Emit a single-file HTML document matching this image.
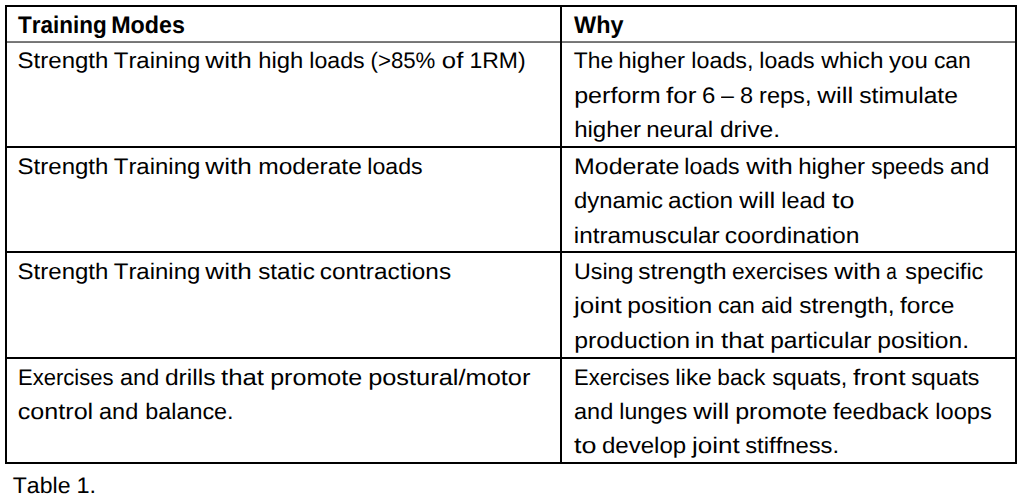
<!DOCTYPE html>
<html lang="en">
<head>
<meta charset="utf-8">
<title>Table 1. Training Modes</title>
<style>
html,body{margin:0;padding:0;background:#fff}
body{position:relative;width:1024px;height:498px;overflow:hidden;color:#000;font-family:"Liberation Sans",sans-serif;font-size:22.5px;font-kerning:none;font-variant-ligatures:none;text-rendering:geometricPrecision}
table{position:absolute;left:5px;top:5px;width:1012px;border-collapse:separate;border-spacing:0;table-layout:fixed}
col.c1{width:555px}col.c2{width:457px}
td,th{position:relative;padding:0;border:0 solid #000;border-left-width:2px;border-top-width:2px;vertical-align:top;text-align:left;font-weight:normal}
td:last-child,th:last-child{border-right-width:2px}
tr.r1 td{border-top-width:0}
tr:last-child td{border-bottom-width:2px}
th{background:linear-gradient(#7c7c7c,#7c7c7c 50%,#747474 50%,#747474) left bottom/100% 2px no-repeat}
.l{position:absolute;margin:0;white-space:nowrap;height:30px;line-height:30px}
.w{display:inline-block;transform-origin:0 0}
.b{font-weight:bold;font-size:24.0px}
</style>
</head>
<body>
<table>
<colgroup><col class="c1"><col class="c2"></colgroup>
<tr class="r0">
<th style="height:36px">
<div class="l b" style="left:11.10px;top:3.75px;word-spacing:-0.824px"><span class="w" style="width:87.45px;transform:translateX(-0.03px) scaleX(0.9370)">Training</span> <span class="w" style="width:73.69px;transform:translateX(0.20px) scaleX(0.9708)">Modes</span></div>
</th>
<th style="height:36px">
<div class="l b" style="left:11.50px;top:3.75px;word-spacing:-0.824px"><span class="w" style="width:49.54px;transform:translateX(0.09px) scaleX(0.9761)">Why</span></div>
</th>
</tr>
<tr class="r1">
<td style="height:103px">
<div class="l" style="left:11.10px;top:3.00px;word-spacing:-0.407px"><span class="w" style="width:90.40px;transform:translateX(-0.40px) scaleX(1.0673)">Strength</span> <span class="w" style="width:85.19px;transform:translateX(-0.23px) scaleX(1.0642)">Training</span> <span class="w" style="width:46.65px;transform:translateX(0.30px) scaleX(1.1613)">with</span> <span class="w" style="width:45.26px;transform:translateX(0.15px) scaleX(1.0598)">high</span> <span class="w" style="width:55.64px;transform:translateX(0.30px) scaleX(1.0282)">loads</span> <span class="w" style="width:65.39px;transform:translateX(0.52px) scaleX(0.9874)">(&gt;85%</span> <span class="w" style="width:21.52px;transform:translateX(-0.13px) scaleX(1.1425)">of</span> <span class="w" style="width:57.08px;transform:translateX(0.49px) scaleX(1.0205)">1RM)</span></div>
</td>
<td style="height:103px">
<div class="l" style="left:11.50px;top:3.00px;word-spacing:-0.407px"><span class="w" style="width:39.04px;transform:translateX(-0.21px) scaleX(1.0144)">The</span> <span class="w" style="width:67.14px;transform:translateX(0.14px) scaleX(1.0695)">higher</span> <span class="w" style="width:62.09px;transform:translateX(0.28px) scaleX(1.0359)">loads,</span> <span class="w" style="width:55.64px;transform:translateX(0.30px) scaleX(1.0282)">loads</span> <span class="w" style="width:62.50px;transform:translateX(0.30px) scaleX(1.0814)">which</span> <span class="w" style="width:38.91px;transform:translateX(0.08px) scaleX(1.0657)">you</span> <span class="w" style="width:36.89px;transform:translateX(-0.10px) scaleX(1.0173)">can</span></div>
<div class="l" style="left:11.50px;top:37.60px;word-spacing:-0.407px"><span class="w" style="width:86.64px;transform:translateX(0.16px) scaleX(1.1156)">perform</span> <span class="w" style="width:30.53px;transform:translateX(-0.07px) scaleX(1.1627)">for</span> <span class="w" style="width:13.10px;transform:translateX(-0.05px) scaleX(1.0638)">6</span> <span class="w" style="width:12.87px;transform:translateX(0.00px) scaleX(1.0298)">–</span> <span class="w" style="width:13.10px;transform:translateX(0.01px) scaleX(1.0449)">8</span> <span class="w" style="width:52.02px;transform:translateX(0.09px) scaleX(1.0463)">reps,</span> <span class="w" style="width:36.28px;transform:translateX(0.30px) scaleX(1.1472)">will</span> <span class="w" style="width:98.77px;transform:translateX(0.20px) scaleX(1.0966)">stimulate</span></div>
<div class="l" style="left:11.50px;top:72.20px;word-spacing:-0.407px"><span class="w" style="width:67.14px;transform:translateX(0.14px) scaleX(1.0695)">higher</span> <span class="w" style="width:67.35px;transform:translateX(0.17px) scaleX(1.0702)">neural</span> <span class="w" style="width:59.59px;transform:translateX(-0.10px) scaleX(1.0945)">drive.</span></div>
</td>
</tr>
<tr class="r2">
<td style="height:103px">
<div class="l" style="left:11.10px;top:4.00px;word-spacing:-0.407px"><span class="w" style="width:90.40px;transform:translateX(-0.40px) scaleX(1.0673)">Strength</span> <span class="w" style="width:85.19px;transform:translateX(-0.23px) scaleX(1.0642)">Training</span> <span class="w" style="width:46.65px;transform:translateX(0.30px) scaleX(1.1613)">with</span> <span class="w" style="width:103.64px;transform:translateX(0.23px) scaleX(1.0896)">moderate</span> <span class="w" style="width:55.64px;transform:translateX(0.30px) scaleX(1.0282)">loads</span></div>
</td>
<td style="height:103px">
<div class="l" style="left:11.50px;top:4.00px;word-spacing:-0.407px"><span class="w" style="width:105.09px;transform:translateX(0.07px) scaleX(1.1067)">Moderate</span> <span class="w" style="width:55.64px;transform:translateX(0.30px) scaleX(1.0282)">loads</span> <span class="w" style="width:46.65px;transform:translateX(0.30px) scaleX(1.1613)">with</span> <span class="w" style="width:67.14px;transform:translateX(0.14px) scaleX(1.0695)">higher</span> <span class="w" style="width:73.11px;transform:translateX(0.26px) scaleX(1.0033)">speeds</span> <span class="w" style="width:39.54px;transform:translateX(0.06px) scaleX(1.0436)">and</span></div>
<div class="l" style="left:11.50px;top:38.30px;word-spacing:-0.407px"><span class="w" style="width:88.76px;transform:translateX(-0.07px) scaleX(1.0617)">dynamic</span> <span class="w" style="width:65.12px;transform:translateX(0.02px) scaleX(1.0843)">action</span> <span class="w" style="width:36.28px;transform:translateX(0.30px) scaleX(1.1472)">will</span> <span class="w" style="width:44.76px;transform:translateX(0.28px) scaleX(1.0382)">lead</span> <span class="w" style="width:22.29px;transform:translateX(0.02px) scaleX(1.1965)">to</span></div>
<div class="l" style="left:11.50px;top:73.00px;word-spacing:-0.407px"><span class="w" style="width:145.75px;transform:translateX(-0.24px) scaleX(1.0803)">intramuscular</span> <span class="w" style="width:134.49px;transform:translateX(-0.18px) scaleX(1.0988)">coordination</span></div>
</td>
</tr>
<tr class="r3">
<td style="height:104px">
<div class="l" style="left:11.10px;top:4.00px;word-spacing:-0.407px"><span class="w" style="width:90.40px;transform:translateX(-0.40px) scaleX(1.0673)">Strength</span> <span class="w" style="width:85.19px;transform:translateX(-0.23px) scaleX(1.0642)">Training</span> <span class="w" style="width:46.65px;transform:translateX(0.30px) scaleX(1.1613)">with</span> <span class="w" style="width:56.67px;transform:translateX(0.21px) scaleX(1.0778)">static</span> <span class="w" style="width:131.04px;transform:translateX(-0.16px) scaleX(1.0816)">contractions</span></div>
</td>
<td style="height:104px">
<div class="l" style="left:11.50px;top:4.00px;word-spacing:-0.407px"><span class="w" style="width:58.38px;transform:translateX(-0.03px) scaleX(1.0334)">Using</span> <span class="w" style="width:88.63px;transform:translateX(0.20px) scaleX(1.0879)">strength</span> <span class="w" style="width:95.88px;transform:translateX(-0.02px) scaleX(1.0085)">exercises</span> <span class="w" style="width:46.65px;transform:translateX(0.30px) scaleX(1.1613)">with</span> <span class="w" style="width:12.38px;transform:translateX(0.26px) scaleX(0.8420)">a</span> <span class="w" style="width:78.17px;transform:translateX(0.23px) scaleX(1.0403)">specific</span></div>
<div class="l" style="left:11.50px;top:38.40px;word-spacing:-0.407px"><span class="w" style="width:47.99px;transform:translateX(-0.06px) scaleX(1.1577)">joint</span> <span class="w" style="width:85.06px;transform:translateX(0.19px) scaleX(1.0946)">position</span> <span class="w" style="width:36.89px;transform:translateX(-0.10px) scaleX(1.0173)">can</span> <span class="w" style="width:31.90px;transform:translateX(0.06px) scaleX(1.0506)">aid</span> <span class="w" style="width:95.08px;transform:translateX(0.20px) scaleX(1.0894)">strength,</span> <span class="w" style="width:54.33px;transform:translateX(-0.04px) scaleX(1.0901)">force</span></div>
<div class="l" style="left:11.50px;top:72.90px;word-spacing:-0.407px"><span class="w" style="width:116.12px;transform:translateX(0.18px) scaleX(1.1038)">production</span> <span class="w" style="width:19.51px;transform:translateX(-0.32px) scaleX(1.1376)">in</span> <span class="w" style="width:43.28px;transform:translateX(0.04px) scaleX(1.1451)">that</span> <span class="w" style="width:101.41px;transform:translateX(0.20px) scaleX(1.0927)">particular</span> <span class="w" style="width:91.59px;transform:translateX(0.19px) scaleX(1.0970)">position.</span></div>
</td>
</tr>
<tr class="r4">
<td style="height:103px">
<div class="l" style="left:11.10px;top:4.10px;word-spacing:-0.407px"><span class="w" style="width:95.64px;transform:translateX(0.02px) scaleX(0.9796)">Exercises</span> <span class="w" style="width:39.54px;transform:translateX(0.06px) scaleX(1.0436)">and</span> <span class="w" style="width:50.50px;transform:translateX(-0.10px) scaleX(1.0944)">drills</span> <span class="w" style="width:43.28px;transform:translateX(0.04px) scaleX(1.1451)">that</span> <span class="w" style="width:92.03px;transform:translateX(0.16px) scaleX(1.1152)">promote</span> <span class="w" style="width:162.46px;transform:translateX(0.14px) scaleX(1.1281)">postural/motor</span></div>
<div class="l" style="left:11.10px;top:37.70px;word-spacing:-0.407px"><span class="w" style="width:75.38px;transform:translateX(-0.20px) scaleX(1.1165)">control</span> <span class="w" style="width:39.54px;transform:translateX(0.06px) scaleX(1.0436)">and</span> <span class="w" style="width:88.18px;transform:translateX(0.31px) scaleX(1.0378)">balance.</span></div>
</td>
<td style="height:103px">
<div class="l" style="left:11.50px;top:4.10px;word-spacing:-0.407px"><span class="w" style="width:95.64px;transform:translateX(0.02px) scaleX(0.9796)">Exercises</span> <span class="w" style="width:36.48px;transform:translateX(0.22px) scaleX(1.0782)">like</span> <span class="w" style="width:48.65px;transform:translateX(0.35px) scaleX(1.0087)">back</span> <span class="w" style="width:74.87px;transform:translateX(0.24px) scaleX(1.0342)">squats,</span> <span class="w" style="width:52.77px;transform:translateX(-0.07px) scaleX(1.1679)">front</span> <span class="w" style="width:68.42px;transform:translateX(0.24px) scaleX(1.0280)">squats</span></div>
<div class="l" style="left:11.50px;top:37.70px;word-spacing:-0.407px"><span class="w" style="width:39.54px;transform:translateX(0.06px) scaleX(1.0436)">and</span> <span class="w" style="width:68.23px;transform:translateX(0.30px) scaleX(1.0240)">lunges</span> <span class="w" style="width:36.28px;transform:translateX(0.30px) scaleX(1.1472)">will</span> <span class="w" style="width:92.03px;transform:translateX(0.16px) scaleX(1.1152)">promote</span> <span class="w" style="width:95.84px;transform:translateX(-0.03px) scaleX(1.0460)">feedback</span> <span class="w" style="width:56.89px;transform:translateX(0.26px) scaleX(1.0525)">loops</span></div>
<div class="l" style="left:11.50px;top:72.10px;word-spacing:-0.407px"><span class="w" style="width:22.29px;transform:translateX(0.02px) scaleX(1.1965)">to</span> <span class="w" style="width:84.13px;transform:translateX(-0.08px) scaleX(1.0693)">develop</span> <span class="w" style="width:47.99px;transform:translateX(-0.06px) scaleX(1.1577)">joint</span> <span class="w" style="width:93.67px;transform:translateX(0.22px) scaleX(1.0577)">stiffness.</span></div>
</td>
</tr>
</table>
<p class="l" style="left:12.80px;top:470.70px;word-spacing:-0.407px"><span class="w" style="width:57.35px;transform:translateX(-0.21px) scaleX(1.0245)">Table</span> <span class="w" style="width:19.63px;transform:translateX(0.44px) scaleX(1.0454)">1.</span></p>
</body>
</html>
